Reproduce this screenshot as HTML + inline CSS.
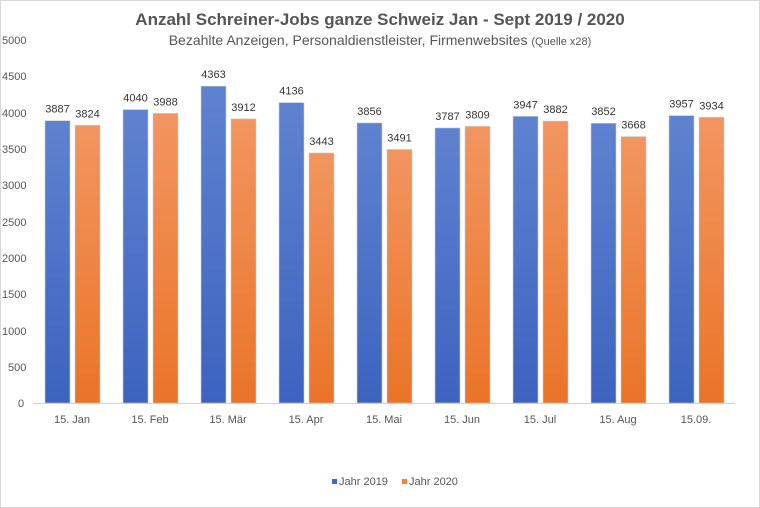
<!DOCTYPE html>
<html><head><meta charset="utf-8"><style>
body{margin:0;background:#fff}
svg{display:block;font-family:"Liberation Sans",Arial,sans-serif}
</style></head><body>
<svg width="760" height="508" viewBox="0 0 760 508">
<defs>
<linearGradient id="b" x1="0" y1="0" x2="0" y2="1"><stop offset="0" stop-color="#5f82d0"/><stop offset="1" stop-color="#3c63bf"/></linearGradient>
<linearGradient id="o" x1="0" y1="0" x2="0" y2="1"><stop offset="0" stop-color="#f29560"/><stop offset="1" stop-color="#ea7428"/></linearGradient>
</defs>
<rect x="0.5" y="0.5" width="759" height="507" fill="#fff" stroke="#d9d9d9"/>
<text x="380" y="25" text-anchor="middle" font-size="17" font-weight="bold" fill="#555">Anzahl Schreiner-Jobs ganze Schweiz Jan - Sept 2019 / 2020</text>
<text x="380" y="45" text-anchor="middle" font-size="14" fill="#555">Bezahlte Anzeigen, Personaldienstleister, Firmenwebsites <tspan font-size="11">(Quelle x28)</tspan></text>
<g font-size="11" fill="#555" text-anchor="start">
<text x="2" y="44">5000</text><text x="2" y="80">4500</text><text x="2" y="117">4000</text><text x="2" y="153">3500</text><text x="2" y="189">3000</text><text x="2" y="226">2500</text><text x="2" y="262">2000</text><text x="2" y="298">1500</text><text x="2" y="335">1000</text><text x="8" y="371">500</text><text x="18" y="407">0</text>
</g>
<line x1="33" y1="403.5" x2="735" y2="403.5" stroke="#d0d0d0"/>
<g id="bars" font-size="11" fill="#333" text-anchor="middle"></g>
<g font-size="11" fill="#555" text-anchor="middle">
<text x="72" y="423">15. Jan</text><text x="150" y="423">15. Feb</text><text x="228" y="423">15. Mär</text><text x="306" y="423">15. Apr</text><text x="384" y="423">15. Mai</text><text x="462" y="423">15. Jun</text><text x="540" y="423">15. Jul</text><text x="618" y="423">15. Aug</text><text x="696" y="423">15.09.</text>
</g>
<rect x="332" y="479" width="5" height="5" fill="#4169c5"/>
<text x="339" y="485" font-size="11" fill="#555">Jahr 2019</text>
<rect x="402" y="479" width="5" height="5" fill="#ee8240"/>
<text x="409" y="485" font-size="11" fill="#555">Jahr 2020</text>
</svg>
<script>
var a=[3887,4040,4363,4136,3856,3787,3947,3852,3957],b=[3824,3988,3912,3443,3491,3809,3882,3668,3934];
var g=document.getElementById('bars'),s='';
for(var i=0;i<9;i++){var x=45+78*i;
[[a[i],x,'b'],[b[i],x+30,'o']].forEach(function(p){var h=p[0]*0.07263,y=403-h;
s+='<rect x="'+p[1]+'" y="'+y+'" width="25" height="'+h+'" fill="url(#'+p[2]+')" stroke="#ccc" stroke-width="0.6"/>';
s+='<text x="'+(p[1]+12.5)+'" y="'+(y-8)+'">'+p[0]+'</text>';});}
g.innerHTML=s;
</script>
</body></html>
